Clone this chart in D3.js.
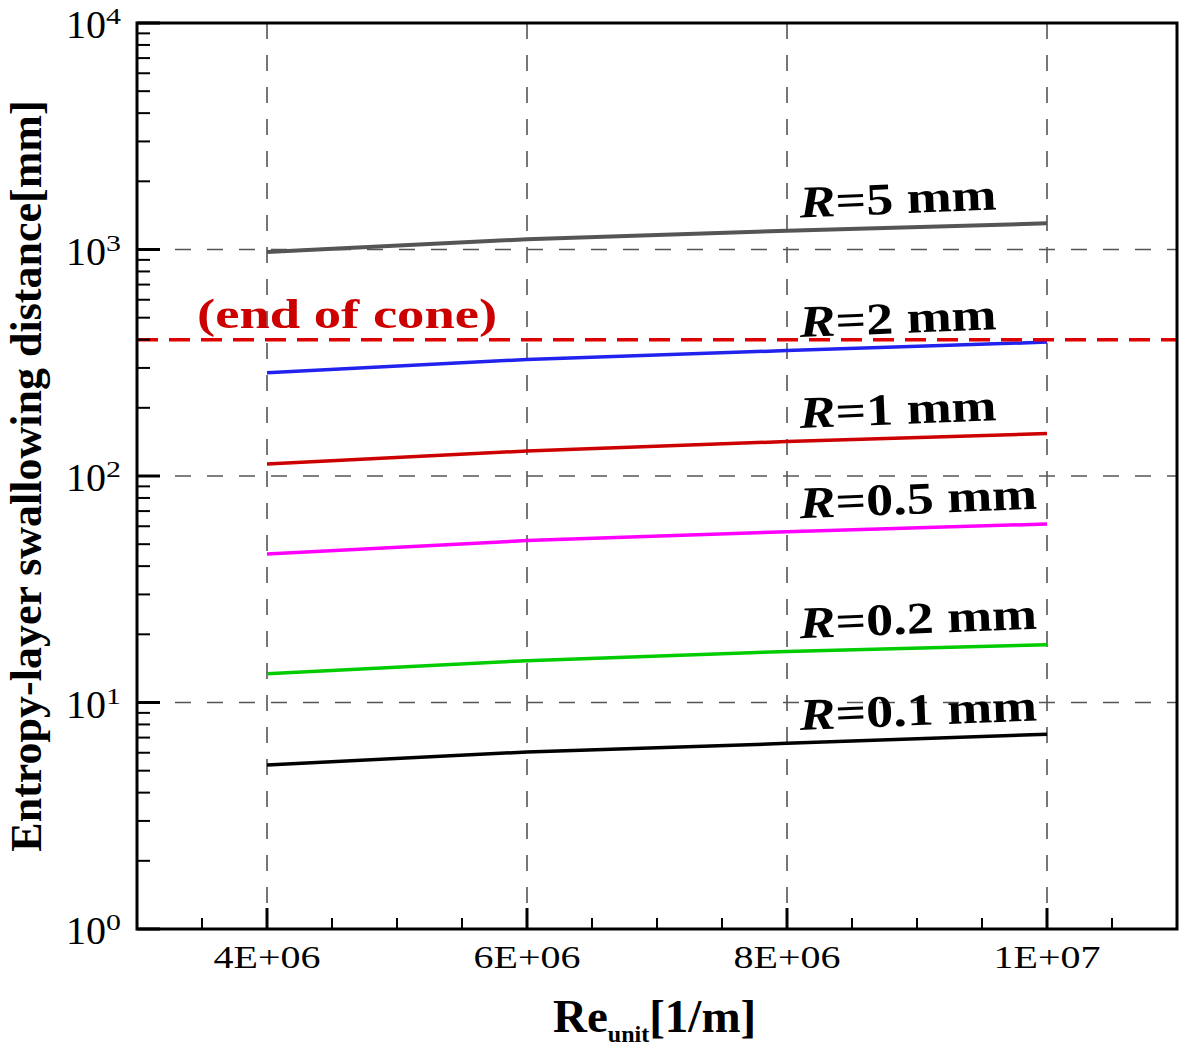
<!DOCTYPE html>
<html>
<head>
<meta charset="utf-8">
<script src="https://cdn.jsdelivr.net/npm/d3@7"></script>
<style>
  html, body { margin: 0; padding: 0; background: #fff; }
  svg { display: block; }
  text { font-family: "Liberation Serif", "Times New Roman", serif; }
</style>
</head>
<body>
<svg id="chart" width="1180" height="1046"></svg>
<script>
// ---- data ----
const reUnit = [4e6, 6e6, 8e6, 1e7];
const seriesNames = ["R=5 mm", "R=2 mm", "R=1 mm", "R=0.5 mm", "R=0.2 mm", "R=0.1 mm"];
const radiusLabels = ["5", "2", "1", "0.5", "0.2", "0.1"];
const dist_R5   = [975, 1110, 1210, 1305];
const dist_R2   = [286, 327, 358, 390];
const dist_R1   = [113, 129, 142, 154];
const dist_R05  = [45.3, 51.9, 56.8, 61.4];
const dist_R02  = [13.4, 15.3, 16.8, 18.0];
const dist_R01  = [5.3, 6.05, 6.6, 7.25];
const seriesValues = [dist_R5, dist_R2, dist_R1, dist_R05, dist_R02, dist_R01];
const seriesColors = ["#555555", "#2222ee", "#cc0000", "#ff00ff", "#00cc00", "#000000"];
const endOfCone = 400;
const endOfConeLabel = "(end of cone)";
const xTickValues = [4e6, 6e6, 8e6, 1e7];
const xTickLabels = ["4E+06", "6E+06", "8E+06", "1E+07"];
const yTickExponents = [0, 1, 2, 3, 4];

// ---- layout ----
const L = 137, R = 1177, T = 23, B = 929;
const svg = d3.select("#chart");
const x = d3.scaleLinear().domain([3e6, 1.1e7]).range([L, R]);
const y = d3.scaleLog().domain([1, 1e4]).range([B, T]);

// grid
const grid = svg.append("g");
xTickValues.forEach(v => {
  grid.append("line").attr("x1", x(v)).attr("x2", x(v)).attr("y1", T).attr("y2", B)
    .attr("stroke", "#555").attr("stroke-width", 1.6).attr("stroke-dasharray", "16,16");
});
[10, 100, 1000].forEach(v => {
  grid.append("line").attr("x1", L).attr("x2", R).attr("y1", y(v)).attr("y2", y(v))
    .attr("stroke", "#555").attr("stroke-width", 1.6).attr("stroke-dasharray", "16,16")
    .attr("stroke-dashoffset", -6);
});

// series lines
const lineGen = d3.line().x((d, i) => x(reUnit[i])).y(d => y(d));
seriesValues.forEach((vals, k) => {
  svg.append("path").datum(vals).attr("d", lineGen)
    .attr("fill", "none").attr("stroke", seriesColors[k])
    .attr("stroke-width", k === 0 ? 4 : 3.5);
});

// end of cone line
svg.append("line").attr("x1", L).attr("x2", R).attr("y1", y(endOfCone)).attr("y2", y(endOfCone))
  .attr("stroke", "#dd0000").attr("stroke-width", 3.5).attr("stroke-dasharray", "21,11");

svg.append("text").attr("transform", `translate(197,${y(endOfCone) - 12}) scale(1.27,1)`)
  .attr("font-size", 43).attr("font-weight", "bold").attr("fill", "#cc0000")
  .text(endOfConeLabel);

// series labels
const labelX = 8.1e6;
function valueAt(vals, xv) {
  const i = d3.bisectRight(reUnit, xv) - 1;
  const j = Math.min(i + 1, reUnit.length - 1);
  const t = (xv - reUnit[i]) / (reUnit[j] - reUnit[i] || 1);
  return Math.exp(Math.log(vals[i]) * (1 - t) + Math.log(vals[j]) * t);
}
seriesValues.forEach((vals, k) => {
  const px = x(labelX), py = y(valueAt(vals, labelX)) - 13;
  const t = svg.append("text")
    .attr("transform", `translate(${px},${py}) rotate(-2.3) scale(1.2,1)`)
    .attr("font-size", 45).attr("font-weight", "bold").attr("fill", "#000");
  t.append("tspan").attr("font-style", "italic").text("R");
  t.append("tspan").text("=" + radiusLabels[k] + " mm");
});

// axes frame
svg.append("rect").attr("x", L).attr("y", T).attr("width", R - L).attr("height", B - T)
  .attr("fill", "none").attr("stroke", "#000").attr("stroke-width", 3);

// x ticks (inward)
const xMinor = d3.range(3.5e6, 1.1e7, 0.5e6);
xMinor.forEach(v => {
  const major = xTickValues.some(m => Math.abs(m - v) < 1);
  svg.append("line").attr("x1", x(v)).attr("x2", x(v)).attr("y1", B).attr("y2", B - (major ? 21 : 11))
    .attr("stroke", "#000").attr("stroke-width", major ? 3 : 2);
});
xTickValues.forEach((v, i) => {
  svg.append("text").attr("transform", `translate(${x(v)},968) scale(1.25,1)`)
    .attr("text-anchor", "middle").attr("font-size", 32).attr("fill", "#000")
    .text(xTickLabels[i]);
});

// y ticks (inward)
yTickExponents.forEach(e => {
  const v = Math.pow(10, e);
  svg.append("line").attr("x1", L).attr("x2", L + 23).attr("y1", y(v)).attr("y2", y(v))
    .attr("stroke", "#000").attr("stroke-width", 3);
  if (e < 4) {
    for (let m = 2; m <= 9; m++) {
      svg.append("line").attr("x1", L).attr("x2", L + 13).attr("y1", y(m * v)).attr("y2", y(m * v))
        .attr("stroke", "#000").attr("stroke-width", 2);
    }
  }
  svg.append("text").attr("x", 106).attr("y", y(v) + 15)
    .attr("text-anchor", "end").attr("font-size", 40).attr("fill", "#000").text("10");
  svg.append("text").attr("transform", `translate(106,${y(v) + 1}) scale(1.3,1)`)
    .attr("font-size", 23).attr("fill", "#000").text(String(e));
});

// x title
const xt = svg.append("text").attr("x", 553).attr("y", 1032)
  .attr("font-size", 47).attr("font-weight", "bold").attr("fill", "#000");
xt.append("tspan").text("Re");
xt.append("tspan").attr("font-size", 24).attr("dy", 10).text("unit");
xt.append("tspan").attr("dy", -10).text("[1/m]");

// y title
svg.append("text").attr("transform", `translate(41,476) rotate(-90)`)
  .attr("text-anchor", "middle").attr("font-size", 44).attr("font-weight", "bold").attr("fill", "#000")
  .text("Entropy-layer swallowing distance[mm]");
</script>
</body>
</html>
